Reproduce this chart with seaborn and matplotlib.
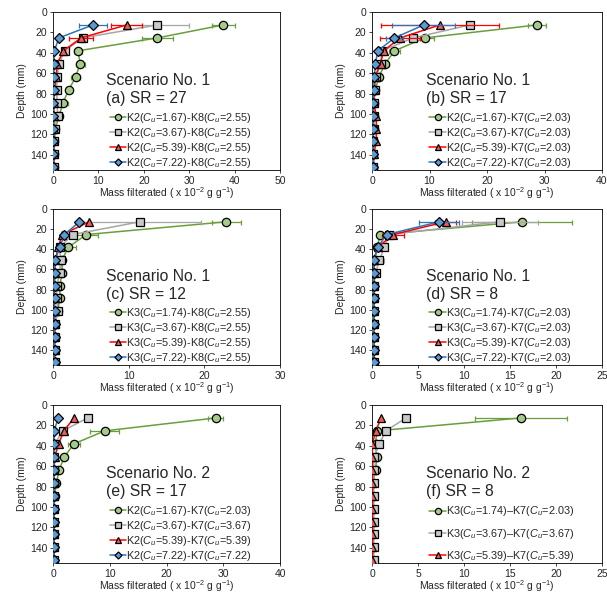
import numpy as np
import pandas as pd
import seaborn as sns
import matplotlib.pyplot as plt

sns.set_style("white")
plt.rcParams['font.family'] = ['Liberation Sans', 'DejaVu Sans']
plt.rcParams['mathtext.fontset'] = 'custom'
plt.rcParams['mathtext.rm'] = 'Liberation Sans'
plt.rcParams['mathtext.it'] = 'Liberation Sans:italic'

depth = [12.7, 25.4, 38.1, 50.8, 63.5, 76.2, 88.9, 101.6, 114.3, 127.0, 139.7, 152.4]

# (a) Scenario 1, SR = 27
a_green = [37.5, 23.0, 5.5, 6.0, 5.0, 3.5, 2.2, 1.4, 0.5, 0.3, 0.2, 0.2]
a_green_err = [2.5, 3.5, 0.8, 1.0, 1.0, 0.6, 1.0, 0.5, 0, 0, 0, 0]
a_gray = [23.0, 6.5, 2.6, 1.3, 0.9, 0.8, 0.9, 1.0, 0.4, 0.3, 0.2, 0.2]
a_gray_err = [7.0, 0.5, 0.3, 0, 0, 0, 0, 0, 0, 0, 0, 0]
a_red = [16.2, 6.2, 2.3, 0.9, 0.7, 0.3, 0.2, 0.2, 0.2, 0.2, 0.2, 0.2]
a_red_err = [3.5, 2.6, 0.3, 0, 0, 0, 0, 0, 0, 0, 0, 0]
a_blue = [8.8, 1.3, 0.3, 0.2, 0.2, 0.2, 0.1, 0.1, 0.1, 0.1, 0.1, 0.1]
a_blue_err = [3.0, 0.3, 0, 0, 0, 0, 0, 0, 0, 0, 0, 0]

# (b) Scenario 1, SR = 17
b_green = [28.7, 9.2, 3.9, 2.3, 1.2, 0.6, 0.3, 0.3, 0.3, 0.2, 0.2, 0.2]
b_green_err = [1.5, 1.5, 1.0, 0.6, 0.3, 0, 0, 0, 0, 0, 0, 0]
b_gray = [17.0, 7.2, 1.7, 1.5, 0.7, 0.5, 0.3, 0.3, 0.3, 0.2, 0.2, 0.2]
b_gray_err = [0, 0.5, 0, 0, 0, 0, 0, 0, 0, 0, 0, 0]
b_red = [11.8, 4.9, 2.0, 1.5, 0.5, 0.4, 0.3, 0.75, 0.75, 0.75, 0.3, 0.3]
b_red_err = [10.3, 3.5, 0.5, 0, 0, 0, 0, 0, 0, 0, 0, 0]
b_blue = [9.0, 3.9, 1.0, 0.6, 0.4, 0.3, 0.2, 0.2, 0.2, 0.2, 0.2, 0.2]
b_blue_err = [5.5, 1.5, 0, 0, 0, 0, 0, 0, 0, 0, 0, 0]

# (c) Scenario 1, SR = 12
c_green = [22.9, 4.4, 2.0, 1.2, 1.2, 0.9, 0.9, 0.6, 0.3, 0.2, 0.2, 0.2]
c_green_err = [1.9, 1.5, 1.0, 0.3, 0.5, 0, 0, 0, 0, 0, 0, 0]
c_gray = [11.5, 2.6, 0.9, 1.0, 0.9, 0.5, 0.5, 0.6, 0.3, 0.3, 0.2, 0.2]
c_gray_err = [8.0, 0.5, 0, 0, 0, 0, 0, 0, 0, 0, 0, 0]
c_red = [4.8, 1.2, 0.7, 0.3, 0.2, 0.2, 0.2, 0.2, 0.2, 0.2, 0.2, 0.2]
c_red_err = [0, 0, 0, 0, 0, 0, 0, 0, 0, 0, 0, 0]
c_blue = [3.5, 1.5, 0.9, 0.3, 0.2, 0.2, 0.2, 0.2, 0.2, 0.2, 0.2, 0.2]
c_blue_err = [0, 0, 0, 0, 0, 0, 0, 0, 0, 0, 0, 0]

# (d) Scenario 1, SR = 8
d_green = [16.3, 0.9, 0.55, 0.3, 0.2, 0.1, 0.1, 0.1, 0.1, 0.1, 0.1, 0.1]
d_green_err = [5.4, 0, 0, 0, 0, 0, 0, 0, 0, 0, 0, 0]
d_gray = [13.9, 1.8, 1.35, 0.8, 0.4, 0.2, 0.2, 0.2, 0.2, 0.2, 0.2, 0.2]
d_gray_err = [4.1, 0.4, 0.3, 0.5, 0, 0, 0, 0, 0, 0, 0, 0]
d_red = [8.0, 2.3, 0.6, 0.2, 0.2, 0.2, 0.2, 0.2, 0.2, 0.2, 0.2, 0.2]
d_red_err = [1.1, 1.2, 0, 0, 0, 0, 0, 0, 0, 0, 0, 0]
d_blue = [7.3, 1.6, 0.6, 0.2, 0.2, 0.2, 0.2, 0.2, 0.2, 0.2, 0.2, 0.2]
d_blue_err = [2.2, 0, 0, 0, 0, 0, 0, 0, 0, 0, 0, 0]

# (e) Scenario 2, SR = 17
e_green = [28.7, 9.1, 3.7, 2.0, 1.1, 0.6, 0.3, 0.2, 0.2, 0.2, 0.2, 0.2]
e_green_err = [1.3, 2.5, 1.0, 0.3, 0, 0, 0, 0, 0, 0, 0, 0]
e_gray = [6.1, 1.7, 0.3, 0.2, 0.2, 0.2, 0.2, 0.2, 0.2, 0.2, 0.2, 0.2]
e_gray_err = [0, 0, 0, 0, 0, 0, 0, 0, 0, 0, 0, 0]
e_red = [3.7, 1.9, 1.0, 0.3, 0.2, 0.2, 0.2, 0.2, 0.2, 0.2, 0.2, 0.2]
e_red_err = [0, 0, 0, 0, 0, 0, 0, 0, 0, 0, 0, 0]
e_blue = [0.9, 0.2, 0.2, 0.2, 0.2, 0.2, 0.2, 0.2, 0.2, 0.2, 0.2, 0.2]
e_blue_err = [0, 0, 0, 0, 0, 0, 0, 0, 0, 0, 0, 0]

# (f) Scenario 2, SR = 8
f_green = [16.2, 0.5, 0.4, 0.5, 0.4, 0.1, 0.1, 0.1, 0.1, 0.1, 0.1, 0.1]
f_green_err = [5.0, 0, 0, 0.3, 0, 0, 0, 0, 0, 0, 0, 0]
f_gray = [3.7, 1.5, 0.8, 0.2, 0.2, 0.2, 0.2, 0.2, 0.2, 0.2, 0.2, 0.2]
f_gray_err = [0, 0, 0, 0, 0, 0, 0, 0, 0, 0, 0, 0]
f_red = [1.0, 0.4, 0.05, 0.05, 0.05, 0.05, 0.05, 0.05, 0.05, 0.05, 0.05, 0.05]
f_red_err = [0, 0, 0, 0, 0, 0, 0, 0, 0, 0, 0, 0]

cu = r"$C_u$"
labels_a = [f"K2({cu}=1.67)-K8({cu}=2.55)", f"K2({cu}=3.67)-K8({cu}=2.55)",
            f"K2({cu}=5.39)-K8({cu}=2.55)", f"K2({cu}=7.22)-K8({cu}=2.55)"]
labels_b = [f"K2({cu}=1.67)-K7({cu}=2.03)", f"K2({cu}=3.67)-K7({cu}=2.03)",
            f"K2({cu}=5.39)-K7({cu}=2.03)", f"K2({cu}=7.22)-K7({cu}=2.03)"]
labels_c = [f"K3({cu}=1.74)-K8({cu}=2.55)", f"K3({cu}=3.67)-K8({cu}=2.55)",
            f"K3({cu}=5.39)-K8({cu}=2.55)", f"K3({cu}=7.22)-K8({cu}=2.55)"]
labels_d = [f"K3({cu}=1.74)-K7({cu}=2.03)", f"K3({cu}=3.67)-K7({cu}=2.03)",
            f"K3({cu}=5.39)-K7({cu}=2.03)", f"K3({cu}=7.22)-K7({cu}=2.03)"]
labels_e = [f"K2({cu}=1.67)-K7({cu}=2.03)", f"K2({cu}=3.67)-K7({cu}=3.67)",
            f"K2({cu}=5.39)-K7({cu}=5.39)", f"K2({cu}=7.22)-K7({cu}=7.22)"]
labels_f = [f"K3({cu}=1.74)\u2013K7({cu}=2.03)", f"K3({cu}=3.67)\u2013K7({cu}=3.67)",
            f"K3({cu}=5.39)\u2013K7({cu}=5.39)"]

styles = [
    dict(color="#6A9E3C", marker="o", mfc="#A6CB88", ms=6.0),
    dict(color="#A6A6A6", marker="s", mfc="#C9C9C9", ms=5.5),
    dict(color="#FF0000", marker="^", mfc="#F05A5A", ms=6.0),
    dict(color="#2E75B6", marker="D", mfc="#5B9BD5", ms=4.8),
]

panels = [
    ([a_green, a_gray, a_red, a_blue], [a_green_err, a_gray_err, a_red_err, a_blue_err],
     labels_a, "Scenario No. 1", "(a) SR = 27", 50, 10),
    ([b_green, b_gray, b_red, b_blue], [b_green_err, b_gray_err, b_red_err, b_blue_err],
     labels_b, "Scenario No. 1", "(b) SR = 17", 40, 10),
    ([c_green, c_gray, c_red, c_blue], [c_green_err, c_gray_err, c_red_err, c_blue_err],
     labels_c, "Scenario No. 1", "(c) SR = 12", 30, 10),
    ([d_green, d_gray, d_red, d_blue], [d_green_err, d_gray_err, d_red_err, d_blue_err],
     labels_d, "Scenario No. 1", "(d) SR = 8", 25, 5),
    ([e_green, e_gray, e_red, e_blue], [e_green_err, e_gray_err, e_red_err, e_blue_err],
     labels_e, "Scenario No. 2", "(e) SR = 17", 40, 10),
    ([f_green, f_gray, f_red], [f_green_err, f_gray_err, f_red_err],
     labels_f, "Scenario No. 2", "(f) SR = 8", 25, 5),
]

W, H = 607, 597
fig = plt.figure(figsize=(W / 100, H / 100), dpi=100)
# axes boxes in pixels: left, top, right, bottom
lefts = [(53, 280), (372, 602)]
rows = [(12, 170), (209, 365), (405, 563)]

for i, (series, errs, labels, scen, sr, xmax, xstep) in enumerate(panels):
    (x0, x1) = lefts[i % 2]
    (y0, y1) = rows[i // 2]
    ax = fig.add_axes([x0 / W, 1 - y1 / H, (x1 - x0) / W, (y1 - y0) / H])
    for k, (vals, err, lab) in enumerate(zip(series, errs, labels)):
        st = styles[k]
        df = pd.DataFrame({"mass": vals, "depth": depth})
        ax.errorbar(vals, depth, xerr=err, fmt="none", ecolor=st["color"],
                    elinewidth=0.9, capsize=1.8, capthick=0.9, zorder=2 + k)
        sns.lineplot(data=df, x="mass", y="depth", orient="y", estimator=None,
                     ax=ax, color=st["color"], lw=1.1, marker=st["marker"],
                     markersize=st["ms"], markerfacecolor=st["mfc"],
                     markeredgecolor="black", markeredgewidth=0.9,
                     label=lab, zorder=3 + k)
    ax.set_xlim(0, xmax)
    ax.set_ylim(155, 0)
    ax.set_xticks(np.arange(0, xmax + 0.1, xstep))
    ax.set_yticks(np.arange(0, 141, 20))
    ax.tick_params(labelsize=7.5, length=2.5, width=0.6, pad=1.5, direction="out",
                   bottom=True, left=True)
    for s in ax.spines.values():
        s.set_linewidth(0.6)
        s.set_color("black")
    ax.set_xlabel(r"Mass filterated ( x 10$^{-2}$ g g$^{-1}$)", fontsize=7.5, labelpad=0)
    ax.set_ylabel("Depth (mm)", fontsize=7.5, labelpad=2)
    ax.text(0.235, 0.565, scen, transform=ax.transAxes, fontsize=11.3, va="center")
    ax.text(0.235, 0.45, sr, transform=ax.transAxes, fontsize=11.3, va="center")
    spacing = 0.75 if len(series) == 3 else 0.08
    ax.legend(loc="lower left", bbox_to_anchor=(0.245, -0.005), frameon=False,
              fontsize=7.8, handlelength=1.5, handletextpad=0.05, borderpad=0.1,
              labelspacing=spacing, borderaxespad=0, markerscale=0.75)

plt.savefig("out.png", dpi=100)
